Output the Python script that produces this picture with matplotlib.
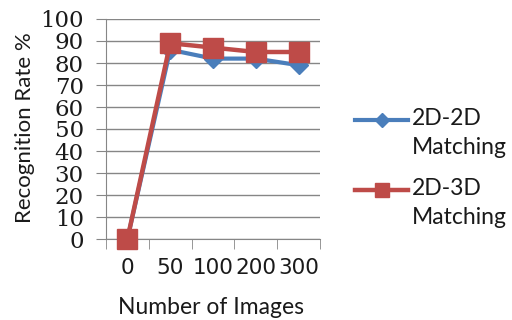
import matplotlib
matplotlib.use("Agg")
import matplotlib.pyplot as plt
from matplotlib.lines import Line2D
import numpy as np

categories = ["0", "50", "100", "200", "300"]
series_2d2d = [0, 86, 82, 82, 79]
series_2d3d = [0, 89, 87, 85, 85]
labels = ["2D-2D\nMatching", "2D-3D\nMatching"]
yticks = list(range(0, 101, 10))

W, H = 512, 320
fig = plt.figure(figsize=(5.12, 3.2), dpi=100)
ax = fig.add_axes([106/W, 1-239/H, 214/W, 220/H])

x = np.arange(len(categories))
blue = "#4A7EBB"
red = "#BE4B48"
txt = "#1a1a1a"
l1, = ax.plot(x, series_2d2d, color=blue, lw=3, marker="D", ms=9, mfc=blue, mec=blue,
              zorder=3, clip_on=False)
l2, = ax.plot(x, series_2d3d, color=red, lw=3.2, marker="s", ms=14, mfc=red, mec=red,
              zorder=4, clip_on=False)

ax.set_xlim(-0.5, len(categories)-0.5)
ax.set_ylim(0, 100)
ax.set_yticks(yticks)
ax.set_yticklabels([str(v) for v in yticks], family="DejaVu Serif", fontsize=16.5, color=txt)
ax.set_xticks(x)
ax.set_xticklabels(categories, family="DejaVu Sans", fontsize=15.5, color=txt)
ax.set_xticks(np.arange(len(categories)+1)-0.5, minor=True)
ax.tick_params(axis="x", which="major", length=0, pad=14)
ax.tick_params(axis="x", which="minor", length=7, color="#868686", direction="out")
ax.tick_params(axis="y", length=7, color="#868686", direction="out", pad=9)
ax.yaxis.grid(True, color="#868686", lw=1)
ax.set_axisbelow(True)
for s in ["top", "right"]:
    ax.spines[s].set_visible(False)
for s in ["left", "bottom"]:
    ax.spines[s].set_color("#868686")

ax.set_ylabel("Recognition Rate %", family="Lato", fontsize=16, color=txt, va="center")
ax.yaxis.set_label_coords((25-106)/214, (239-128)/220)
ax.set_xlabel("Number of Images", family="Lato", fontsize=16.5, color=txt, va="center")
ax.xaxis.set_label_coords((211-106)/214, (239-308)/220)

# legend drawn manually so the marker sits on the first label line
legend_rows = [(l1, 120), (l2, 190)]
for (line, yc), lab in zip(legend_rows, labels):
    fig.add_artist(Line2D([355/W, 408/W], [1-yc/H, 1-yc/H], transform=fig.transFigure,
                          color=line.get_color(), lw=line.get_linewidth()))
    fig.add_artist(Line2D([381.5/W], [1-yc/H], transform=fig.transFigure,
                          marker=line.get_marker(), ms=line.get_markersize()*0.75,
                          color=line.get_color(), lw=0))
    fig.text(412/W, 1-(yc-12)/H, lab, family="Lato", fontsize=16.5, color=txt,
             va="top", ha="left", linespacing=1.45)

fig.savefig("out.png", dpi=100)
